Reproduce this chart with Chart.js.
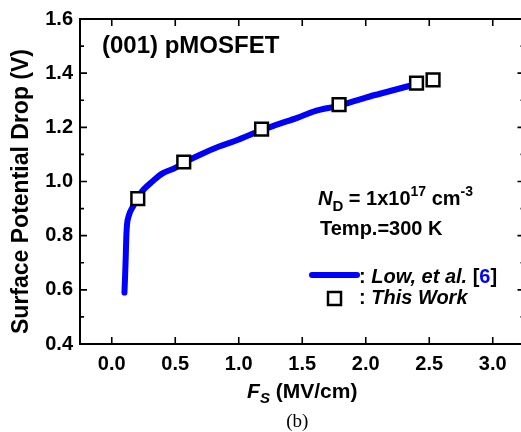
<!DOCTYPE html>
<html>
<head>
<meta charset="utf-8">
<script src="https://cdn.jsdelivr.net/npm/chart.js@4"></script>
<style>
  html, body { margin: 0; padding: 0; background: #fff; overflow: hidden; }
  #wrap { width: 536px; height: 432px; }
</style>
</head>
<body>
<div id="wrap"><canvas id="surfChart" width="536" height="432"></canvas></div>
<script>
// Low et al. [6] curve (MV/cm, V)
const lowX = [0.10, 0.105, 0.11, 0.115, 0.12, 0.135, 0.17, 0.20, 0.25, 0.32, 0.40, 0.50, 0.57, 0.70, 0.85, 1.00, 1.18, 1.30, 1.46, 1.60, 1.79, 2.00, 2.20, 2.40]
const lowY = [0.59, 0.65, 0.72, 0.80, 0.84, 0.875, 0.91, 0.94, 0.97, 1.00, 1.03, 1.05, 1.07, 1.10, 1.13, 1.155, 1.19, 1.21, 1.235, 1.26, 1.28, 1.31, 1.335, 1.36]

// this work (squares)
const workX = [0.205, 0.567, 1.18, 1.79, 2.40, 2.53]
const workY = [0.937, 1.072, 1.193, 1.284, 1.363, 1.375]

const xTicks = [0.0, 0.5, 1.0, 1.5, 2.0, 2.5, 3.0]
const yTicks = [0.4, 0.6, 0.8, 1.0, 1.2, 1.4, 1.6]
const yMinor = [0.5, 0.7, 0.9, 1.1, 1.3, 1.5]

const SANS = "'Liberation Sans', Arial, sans-serif"
const BLUE = "#0000ff"

// draws a run of text pieces [text, font, color, dy]
function drawRun(ctx, x, y, parts){
    let cx = x
    parts.forEach(p => {
        ctx.font = p[1]
        ctx.fillStyle = p[2] || "#000"
        ctx.fillText(p[0], cx, y + (p[3] || 0))
        cx += ctx.measureText(p[0]).width
    })
    return cx
}
function runWidth(ctx, parts){
    let w = 0
    parts.forEach(p => { ctx.font = p[1]; w += ctx.measureText(p[0]).width })
    return w
}

const framePlugin = {
    id: "frame",
    afterDraw(chart){
        const ctx = chart.ctx
        const a = chart.chartArea
        const xs = chart.scales.x, ys = chart.scales.y
        ctx.save()
        ctx.strokeStyle = "#000"
        ctx.lineWidth = 2
        ctx.strokeRect(a.left, a.top, a.right - a.left, a.bottom - a.top)

        // inward ticks
        ctx.lineWidth = 1.6
        ctx.beginPath()
        xTicks.forEach(v => {
            const px = xs.getPixelForValue(v)
            ctx.moveTo(px, a.bottom); ctx.lineTo(px, a.bottom - 7)
            ctx.moveTo(px, a.top); ctx.lineTo(px, a.top + 7)
        })
        yTicks.forEach(v => {
            const py = ys.getPixelForValue(v)
            ctx.moveTo(a.left, py); ctx.lineTo(a.left + 7, py)
            ctx.moveTo(a.right, py); ctx.lineTo(a.right - 7, py)
        })
        yMinor.forEach(v => {
            const py = ys.getPixelForValue(v)
            ctx.moveTo(a.left, py); ctx.lineTo(a.left + 4, py)
            ctx.moveTo(a.right, py); ctx.lineTo(a.right - 4, py)
        })
        ctx.stroke()

        ctx.textBaseline = "alphabetic"
        ctx.textAlign = "left"

        // panel label
        ctx.font = "bold 24px " + SANS
        ctx.fillStyle = "#000"
        ctx.fillText("(001) pMOSFET", 102, 53)

        // doping + temperature
        drawRun(ctx, 318, 205, [
            ["N", "italic bold 20px " + SANS],
            ["D", "bold 15px " + SANS, "#000", 6],
            [" = 1x10", "bold 20px " + SANS],
            ["17", "bold 14px " + SANS, "#000", -9],
            [" cm", "bold 20px " + SANS],
            ["-3", "bold 14px " + SANS, "#000", -9]
        ])
        ctx.font = "bold 20px " + SANS
        ctx.fillText("Temp.=300 K", 320, 235)

        // legend
        ctx.strokeStyle = BLUE
        ctx.lineWidth = 6
        ctx.lineCap = "round"
        ctx.beginPath(); ctx.moveTo(312, 275); ctx.lineTo(357, 275); ctx.stroke()
        drawRun(ctx, 359, 283, [
            [":", "bold 20px " + SANS],
            [" Low, et al.", "italic bold 20px " + SANS],
            [" [", "bold 20px " + SANS],
            ["6", "bold 20px " + SANS, BLUE],
            ["]", "bold 20px " + SANS]
        ])
        ctx.lineCap = "butt"
        ctx.strokeStyle = "#000"
        ctx.lineWidth = 2.5
        ctx.fillStyle = "#fff"
        ctx.fillRect(328, 292, 13, 13)
        ctx.strokeRect(328, 292, 13, 13)
        drawRun(ctx, 359, 304, [
            [":", "bold 20px " + SANS],
            [" This Work", "italic bold 20px " + SANS]
        ])

        // x title
        const xt = [
            ["F", "italic bold 21px " + SANS],
            ["S", "italic bold 15px " + SANS, "#000", 5],
            [" (MV/cm)", "bold 21px " + SANS]
        ]
        const cx = (a.left + a.right) / 2
        drawRun(ctx, cx - runWidth(ctx, xt) / 2, 398, xt)

        // panel caption
        ctx.font = "19px 'Liberation Serif', 'Times New Roman', serif"
        ctx.fillStyle = "#000"
        ctx.textAlign = "center"
        ctx.fillText("(b)", cx - 5, 427)

        // y title
        ctx.translate(22, (a.top + a.bottom) / 2 + 10)
        ctx.rotate(-Math.PI / 2)
        ctx.textBaseline = "middle"
        ctx.font = "bold 23px " + SANS
        ctx.fillText("Surface Potential Drop (V)", 0, 0)
        ctx.restore()
    }
}

new Chart(document.getElementById("surfChart"), {
    type: "scatter",
    data: {
        datasets: [
            {
                label: "This Work",
                data: workX.map((x, i) => ({ x, y: workY[i] })),
                pointStyle: "rect",
                pointRadius: 9,
                backgroundColor: "#fff",
                borderColor: "#000",
                borderWidth: 2.5,
                order: 0
            },
            {
                label: "Low, et al. [6]",
                data: lowX.map((x, i) => ({ x, y: lowY[i] })),
                showLine: true,
                pointRadius: 0,
                borderColor: BLUE,
                borderWidth: 6,
                borderCapStyle: "round",
                borderJoinStyle: "round",
                cubicInterpolationMode: "monotone",
                order: 1
            }
        ]
    },
    options: {
        responsive: false,
        animation: false,
        devicePixelRatio: 1,
        layout: { padding: { top: 15, right: 0, left: 0, bottom: 0 } },
        plugins: { legend: { display: false }, tooltip: { enabled: false } },
        scales: {
            x: {
                min: -0.25, max: 3.25,
                grid: { display: false, drawTicks: false },
                border: { display: false },
                ticks: {
                    padding: 8,
                    color: "#000", font: { family: SANS, size: 20, weight: "bold" },
                    maxRotation: 0, autoSkip: false,
                    callback: v => v.toFixed(1)
                },
                afterBuildTicks: s => { s.ticks = xTicks.map(v => ({ value: v })) },
                afterFit: s => { s.height = 88 }
            },
            y: {
                min: 0.4, max: 1.6,
                grid: { display: false, drawTicks: false },
                border: { display: false },
                ticks: {
                    padding: 7, autoSkip: false,
                    color: "#000", font: { family: SANS, size: 20, weight: "bold" },
                    callback: v => v.toFixed(1)
                },
                afterBuildTicks: s => { s.ticks = yTicks.map(v => ({ value: v })) },
                afterFit: s => { s.width = 80 }
            }
        }
    },
    plugins: [framePlugin]
})
</script>
</body>
</html>
